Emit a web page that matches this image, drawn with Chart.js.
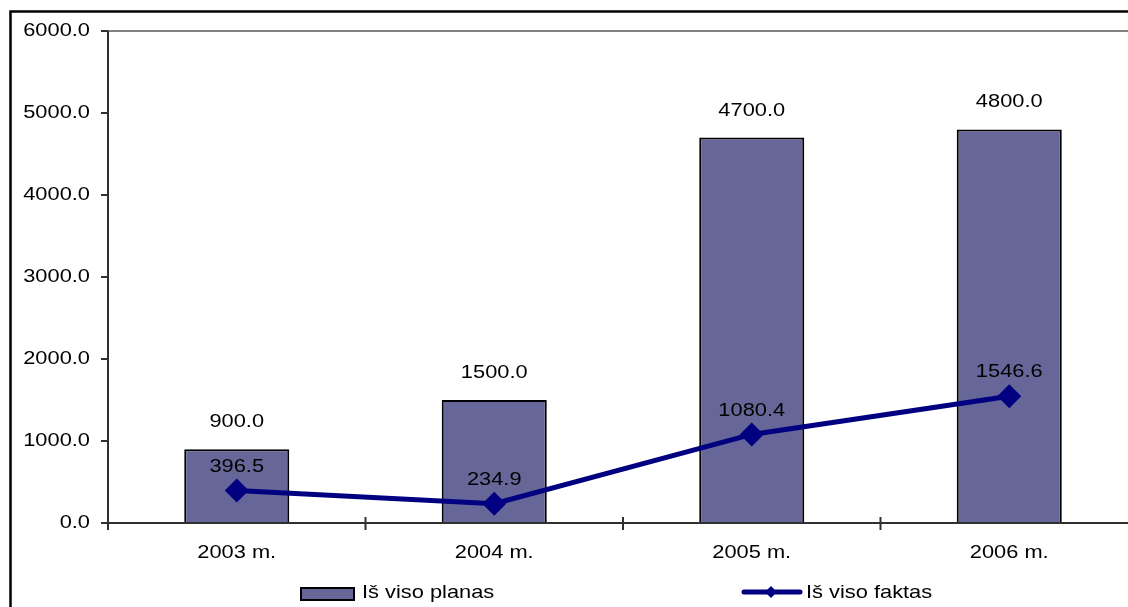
<!DOCTYPE html>
<html>
<head>
<meta charset="utf-8">
<script src="https://cdn.jsdelivr.net/npm/chart.js@4.4.1/dist/chart.umd.min.js"></script>
<style>
  html, body { margin: 0; padding: 0; background: #fff; overflow: hidden; width: 1128px; height: 607px; }
  #wrap { width: 1160px; height: 607px; }
</style>
</head>
<body>
<div id="wrap"><canvas id="chart" width="1160" height="607"></canvas></div>
<script>
// chart data
const categories = ['2003 m.', '2004 m.', '2005 m.', '2006 m.'];
const planValues = [900.0, 1500.0, 4700.0, 4800.0];
const factValues = [396.5, 234.9, 1080.4, 1546.6];
const yTicks = [0, 1000, 2000, 3000, 4000, 5000, 6000];
const seriesNames = ['Iš viso planas', 'Iš viso faktas'];

const BAR_COLOR = '#666699';
const LINE_COLOR = '#000080';
const FONT = '"Liberation Sans", Arial, sans-serif';
const FONT_SIZE = 18.5;
const STRETCH = 1.18; // text in the source is drawn wider than normal

function stretchedText(ctx, text, x, y, align) {
    ctx.save();
    ctx.translate(x, y);
    ctx.scale(STRETCH, 1);
    ctx.font = FONT_SIZE + 'px ' + FONT;
    ctx.fillStyle = '#000';
    ctx.textAlign = align || 'center';
    ctx.textBaseline = 'middle';
    ctx.fillText(text, 0, 0);
    ctx.restore();
}

const decorPlugin = {
    id: 'decor',
    beforeDatasetsDraw(chart) {
        const ctx = chart.ctx;
        const area = chart.chartArea;
        const xs = chart.scales.x;
        const ys = chart.scales.y;
        ctx.save();
        // top line at max value
        ctx.strokeStyle = '#808080';
        ctx.lineWidth = 2;
        ctx.beginPath();
        ctx.moveTo(area.left, ys.getPixelForValue(6000));
        ctx.lineTo(chart.width, ys.getPixelForValue(6000));
        ctx.stroke();
        // y axis with tick marks
        ctx.strokeStyle = '#303030';
        ctx.beginPath();
        ctx.moveTo(area.left, area.top);
        ctx.lineTo(area.left, area.bottom);
        ys.ticks.forEach((t, i) => {
            const y = ys.getPixelForTick(i);
            ctx.moveTo(area.left - 7, y);
            ctx.lineTo(area.left, y);
        });
        ctx.stroke();
        ctx.restore();

        ys.ticks.forEach((t, i) => {
            stretchedText(ctx, t.value.toFixed(1), area.left - 18, ys.getPixelForTick(i), 'right');
        });
        categories.forEach((c, i) => {
            stretchedText(ctx, c, xs.getPixelForValue(i), area.bottom + 30, 'center');
        });
    },
    afterDatasetsDraw(chart) {
        const ctx = chart.ctx;
        const area = chart.chartArea;
        const xs = chart.scales.x;
        ctx.save();
        // x axis with crossing tick marks between categories
        ctx.strokeStyle = '#303030';
        ctx.lineWidth = 2;
        ctx.beginPath();
        ctx.moveTo(area.left, area.bottom);
        ctx.lineTo(area.right, area.bottom);
        const step = xs.getPixelForValue(1) - xs.getPixelForValue(0);
        for (let i = 0; i <= categories.length; i++) {
            const x = xs.getPixelForValue(0) - step / 2 + i * step;
            ctx.moveTo(x, area.bottom - 6);
            ctx.lineTo(x, area.bottom + 7);
        }
        ctx.stroke();

        // outer frame
        ctx.strokeStyle = '#000';
        ctx.lineWidth = 2.5;
        ctx.beginPath();
        ctx.moveTo(chart.width, 11.5);
        ctx.lineTo(10.5, 11.5);
        ctx.lineTo(10.5, chart.height);
        ctx.stroke();
        ctx.restore();

        // value labels
        chart.getDatasetMeta(1).data.forEach((bar, i) => {
            stretchedText(ctx, planValues[i].toFixed(1), bar.x, bar.y - 27);
        });
        chart.getDatasetMeta(0).data.forEach((pt, i) => {
            stretchedText(ctx, factValues[i].toFixed(1), pt.x, pt.y - 24);
        });

        // legend
        ctx.save();
        ctx.fillStyle = BAR_COLOR;
        ctx.strokeStyle = '#000';
        ctx.lineWidth = 2;
        ctx.fillRect(301, 588, 53, 12);
        ctx.strokeRect(301, 588, 53, 12);
        ctx.strokeStyle = LINE_COLOR;
        ctx.lineWidth = 5;
        ctx.lineCap = 'round';
        ctx.beginPath();
        ctx.moveTo(744, 592);
        ctx.lineTo(800, 592);
        ctx.stroke();
        ctx.fillStyle = LINE_COLOR;
        ctx.beginPath();
        ctx.moveTo(771, 586);
        ctx.lineTo(777, 592);
        ctx.lineTo(771, 598);
        ctx.lineTo(765, 592);
        ctx.closePath();
        ctx.fill();
        ctx.restore();
        stretchedText(ctx, seriesNames[0], 362, 593, 'left');
        stretchedText(ctx, seriesNames[1], 806, 593, 'left');
    }
};

new Chart(document.getElementById('chart').getContext('2d'), {
    data: {
        labels: categories,
        datasets: [
            {
                type: 'line',
                label: seriesNames[1],
                data: factValues,
                borderColor: LINE_COLOR,
                backgroundColor: LINE_COLOR,
                borderWidth: 5,
                pointStyle: 'rectRot',
                pointRadius: 12,
                pointHoverRadius: 12,
                pointBorderWidth: 0,
                tension: 0,
                order: 0
            },
            {
                type: 'bar',
                label: seriesNames[0],
                data: planValues,
                backgroundColor: BAR_COLOR,
                borderColor: '#000',
                borderWidth: 2,
                categoryPercentage: 1,
                barPercentage: 0.408,
                order: 1
            }
        ]
    },
    options: {
        responsive: false,
        animation: false,
        layout: { padding: { top: 31, right: 22, left: 0, bottom: 0 } },
        plugins: { legend: { display: false }, tooltip: { enabled: false } },
        scales: {
            x: {
                grid: { display: false },
                border: { display: false },
                ticks: { display: false },
                afterFit(scale) { scale.height = 84; }
            },
            y: {
                min: 0,
                max: 6000,
                afterBuildTicks(scale) { scale.ticks = yTicks.map(v => ({ value: v })); },
                grid: { display: false },
                border: { display: false },
                ticks: { display: false },
                afterFit(scale) { scale.width = 108; }
            }
        }
    },
    plugins: [decorPlugin]
});
</script>
</body>
</html>
